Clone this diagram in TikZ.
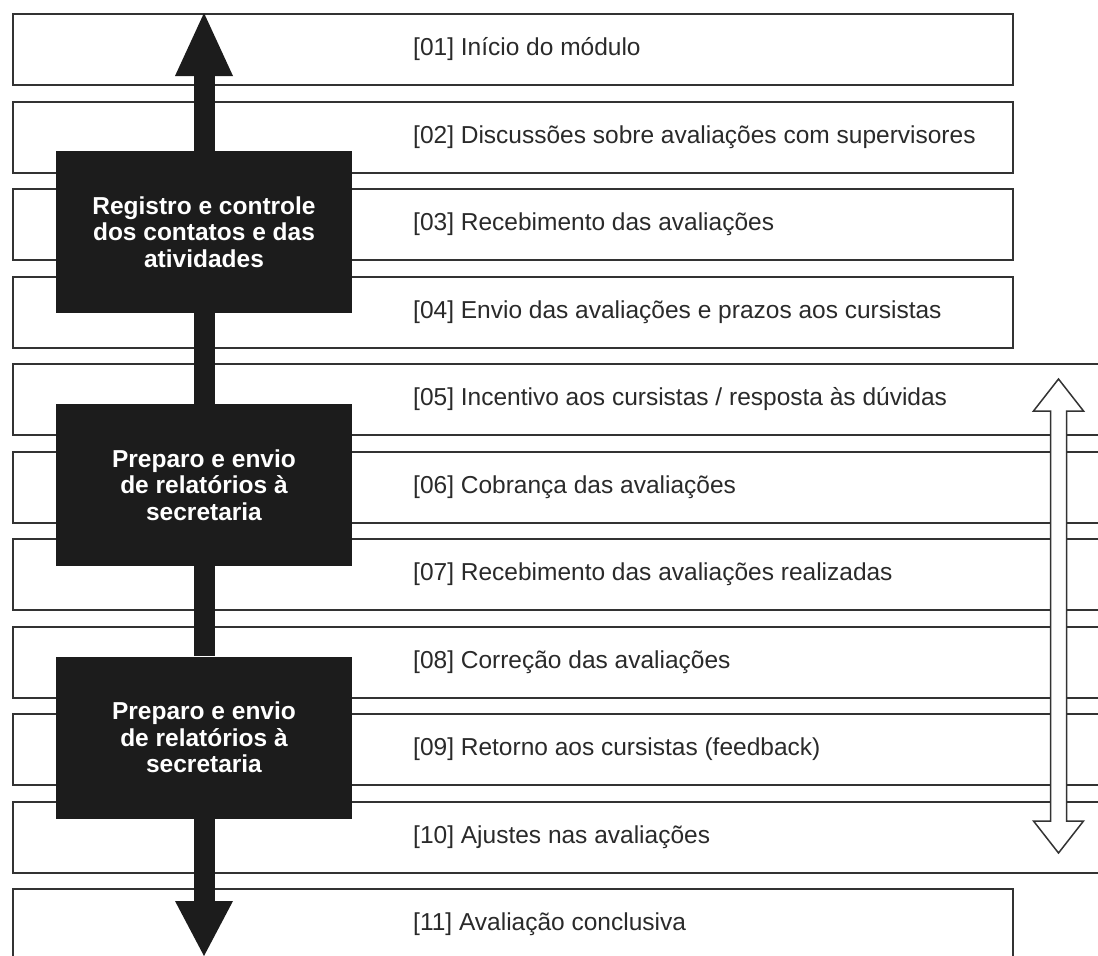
\documentclass[tikz,border=0pt]{standalone}
\usepackage{fontspec}
\setmainfont{Liberation Sans}
\usetikzlibrary{arrows.meta}
\definecolor{edgec}{HTML}{333333}
\definecolor{blkc}{HTML}{1C1C1C}
\definecolor{txtc}{HTML}{2A2A2A}
\begin{document}
\begin{tikzpicture}[x=1pt,y=-1pt,
  rowbox/.style={draw=edgec, line width=2pt, fill=white, rectangle, anchor=north west, minimum height=71pt, inner sep=0pt},
  rowlbl/.style={anchor=base west, inner sep=0pt, text=txtc, font=\fontsize{24.5}{28}\selectfont},
  blackbox/.style={fill=blkc, rectangle, minimum width=296pt, minimum height=162pt, inner sep=0pt, align=center, text=white, font=\fontsize{24.5}{26.5}\selectfont\bfseries},
  shaft/.style={draw=blkc, line width=21pt},
  dblarrow/.style={draw=edgec, fill=white, line width=1.5pt, line join=miter}
]
\useasboundingbox (0,0) rectangle (1098,956);
\clip (0,0) rectangle (1098,956);
\fill[white] (0,0) rectangle (1098,956);

% row boxes
\node[rowbox, minimum width=1000pt] (b1) at (12,13) {};
\node[rowbox, minimum width=1000pt] (b2) at (12,100.5) {};
\node[rowbox, minimum width=1000pt] (b3) at (12,188) {};
\node[rowbox, minimum width=1000pt] (b4) at (12,275.5) {};
\node[rowbox, minimum width=1100pt] (b5) at (12,363) {};
\node[rowbox, minimum width=1100pt] (b6) at (12,450.5) {};
\node[rowbox, minimum width=1100pt] (b7) at (12,538) {};
\node[rowbox, minimum width=1100pt] (b8) at (12,625.5) {};
\node[rowbox, minimum width=1100pt] (b9) at (12,713) {};
\node[rowbox, minimum width=1100pt] (b10) at (12,800.5) {};
\node[rowbox, minimum width=1000pt, minimum height=90pt] (b11) at (12,888) {};

% row labels
\node[rowlbl] (t1) at (413,55.5) {[01] Início do módulo};
\node[rowlbl] (t2) at (413,143) {[02] Discussões sobre avaliações com supervisores};
\node[rowlbl] (t3) at (413,230.5) {[03] Recebimento das avaliações};
\node[rowlbl] (t4) at (413,318) {[04] Envio das avaliações e prazos aos cursistas};
\node[rowlbl] (t5) at (413,405.5) {[05] Incentivo aos cursistas / resposta às dúvidas};
\node[rowlbl] (t6) at (413,493) {[06] Cobrança das avaliações};
\node[rowlbl] (t7) at (413,580.5) {[07] Recebimento das avaliações realizadas};
\node[rowlbl] (t8) at (413,668) {[08] Correção das avaliações};
\node[rowlbl] (t9) at (413,755.5) {[09] Retorno aos cursistas (feedback)};
\node[rowlbl] (t10) at (413,843) {[10] Ajustes nas avaliações};
\node[rowlbl] (t11) at (413,930.5) {[11] Avaliação conclusiva};

% black boxes
\node[blackbox] (A) at (204,232) {Registro e controle\\dos contatos e das\\atividades};
\node[blackbox] (B) at (204,485) {Preparo e envio\\de relatórios à\\secretaria};
\node[blackbox] (C) at (204,737.5) {Preparo e envio\\de relatórios à\\secretaria};

% main arrow
\coordinate (toptip) at (204,13);
\coordinate (bottip) at (204,956);
\draw[shaft, -{Triangle[length=63pt,width=58pt,line width=0pt]}] (A.north) -- (toptip);
\draw[shaft] (A.south) -- (B.north);
\draw[shaft] (B.south) -- (C.north);
\draw[shaft, -{Triangle[length=55pt,width=58pt,line width=0pt]}] (C.south) -- (bottip);

% right double arrow
\draw[dblarrow] (1058.5,379) -- (1083.5,411) -- (1066.5,411) -- (1066.5,821)
  -- (1083.5,821) -- (1058.5,853) -- (1033.5,821) -- (1050.5,821)
  -- (1050.5,411) -- (1033.5,411) -- cycle;
\end{tikzpicture}
\end{document}
